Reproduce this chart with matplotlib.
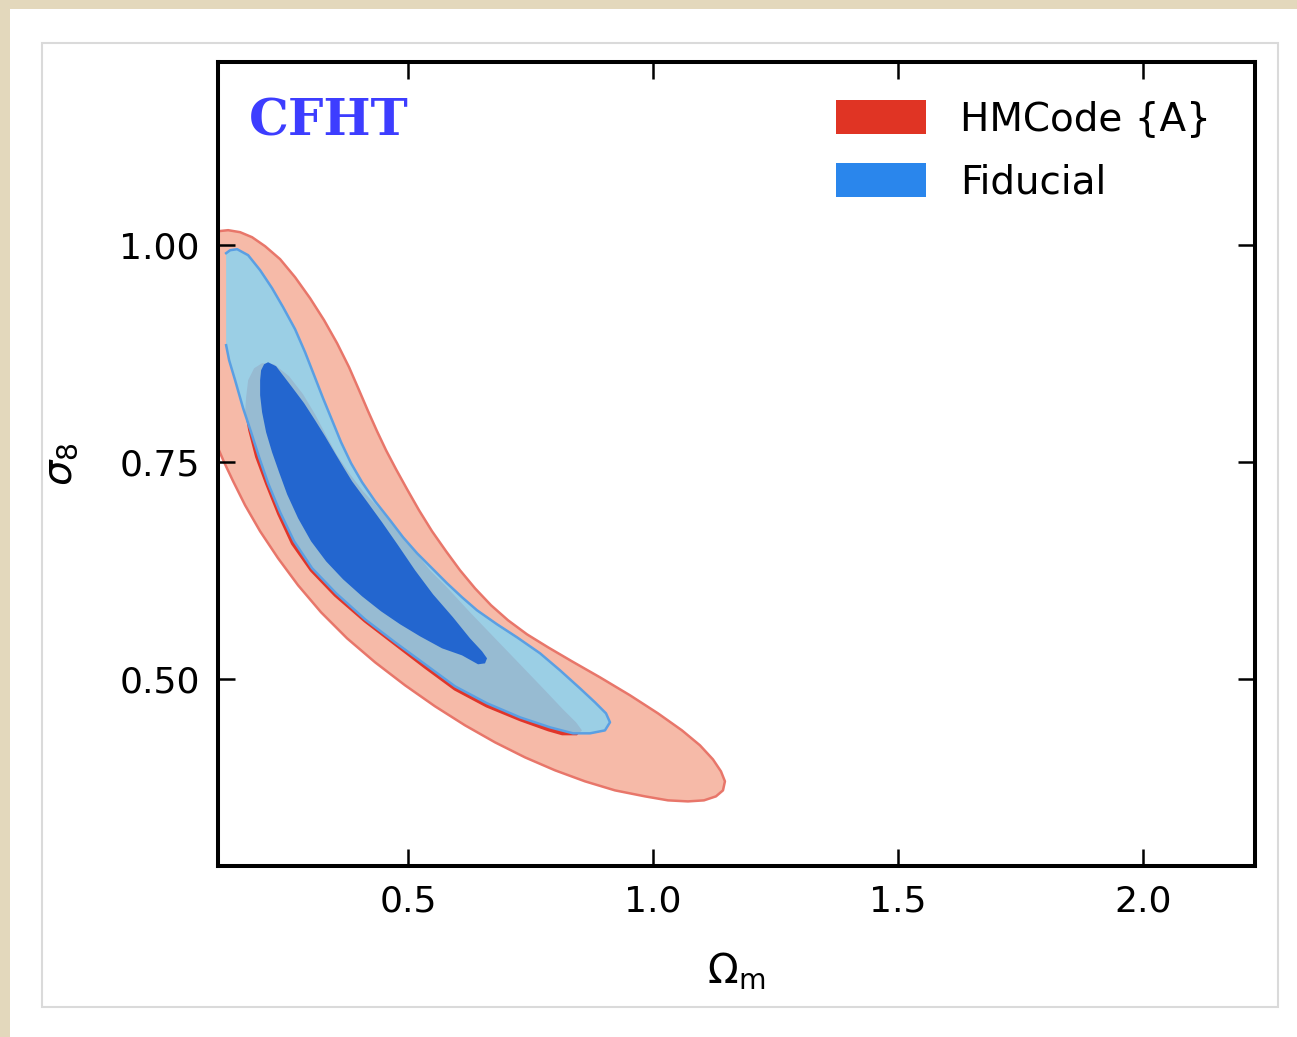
import matplotlib
matplotlib.use("Agg")
import matplotlib.pyplot as plt
from matplotlib.patches import Patch, Rectangle

plt.rcParams['font.family'] = ['DejaVu Sans']
plt.rcParams['mathtext.fontset'] = 'dejavusans'

# contour boundaries (Omega_m, sigma_8)
hm_outer_om = [0.1122, 0.1327, 0.1571, 0.1816, 0.2082, 0.2388, 0.2694, 0.3000, 0.3286, 0.3551,
               0.3796, 0.4000, 0.4184, 0.4367, 0.4551, 0.4755, 0.4980, 0.5224, 0.5490, 0.5776,
               0.6061, 0.6367, 0.6694, 0.7041, 0.7429, 0.7857, 0.8347, 0.8918, 0.9531, 1.0102,
               1.0592, 1.0959, 1.1224, 1.1388, 1.1469, 1.1429, 1.1286, 1.1041, 1.0714, 1.0306,
               0.9837, 0.9224, 0.8612, 0.8000, 0.7388, 0.6776, 0.6163, 0.5551, 0.4939, 0.4327,
               0.3755, 0.3224, 0.2755, 0.2347, 0.1980, 0.1673, 0.1429, 0.1245, 0.1122]
hm_outer_s8 = [1.0161, 1.0173, 1.0150, 1.0092, 0.9988, 0.9839, 0.9631, 0.9389, 0.9136, 0.8871,
               0.8594, 0.8330, 0.8088, 0.7857, 0.7638, 0.7419, 0.7189, 0.6947, 0.6705, 0.6475,
               0.6256, 0.6048, 0.5853, 0.5680, 0.5518, 0.5369, 0.5207, 0.5023, 0.4816, 0.4608,
               0.4412, 0.4240, 0.4078, 0.3940, 0.3825, 0.3721, 0.3652, 0.3606, 0.3594, 0.3606,
               0.3652, 0.3721, 0.3825, 0.3952, 0.4101, 0.4274, 0.4470, 0.4689, 0.4931, 0.5196,
               0.5472, 0.5772, 0.6083, 0.6394, 0.6705, 0.7005, 0.7281, 0.7500, 0.7661]

hm_inner_om = [0.1694, 0.1735, 0.1857, 0.2020, 0.2265, 0.2571, 0.2857, 0.3102, 0.3327, 0.3551,
               0.3816, 0.4082, 0.4367, 0.4653, 0.4918, 0.5184, 0.5449, 0.5776, 0.6265, 0.6776,
               0.7286, 0.7796, 0.8163, 0.8429, 0.8551, 0.8449, 0.8143, 0.7857, 0.7286, 0.6592,
               0.5939, 0.5327, 0.4714, 0.4102, 0.3490, 0.3000, 0.2612, 0.2327, 0.2082, 0.1878,
               0.1735, 0.1673]
hm_inner_s8 = [0.8249, 0.8445, 0.8583, 0.8641, 0.8629, 0.8491, 0.8283, 0.8053, 0.7811, 0.7581,
               0.7362, 0.7166, 0.6993, 0.6809, 0.6624, 0.6440, 0.6256, 0.6071, 0.5772, 0.5472,
               0.5173, 0.4873, 0.4654, 0.4505, 0.4412, 0.4355, 0.4355, 0.4401, 0.4516, 0.4677,
               0.4873, 0.5127, 0.5392, 0.5657, 0.5956, 0.6244, 0.6555, 0.6901, 0.7247, 0.7558,
               0.7869, 0.8076]

fid_outer_om = [0.1286, 0.1367, 0.1510, 0.1735, 0.1980, 0.2224, 0.2449, 0.2694, 0.2898, 0.3082,
                0.3265, 0.3449, 0.3633, 0.3837, 0.4061, 0.4327, 0.4633, 0.4898, 0.5184, 0.5490,
                0.5796, 0.6102, 0.6408, 0.6816, 0.7224, 0.7694, 0.8102, 0.8510, 0.8816, 0.9041,
                0.9122, 0.9020, 0.8714, 0.8367, 0.7898, 0.7286, 0.6612, 0.5959, 0.5347, 0.4735,
                0.4122, 0.3531, 0.3041, 0.2673, 0.2388, 0.2143, 0.1959, 0.1796, 0.1633, 0.1469,
                0.1347, 0.1286]
fid_outer_s8 = [0.9908, 0.9942, 0.9954, 0.9885, 0.9712, 0.9505, 0.9286, 0.9032, 0.8767, 0.8502,
                0.8237, 0.7984, 0.7730, 0.7488, 0.7270, 0.7051, 0.6832, 0.6636, 0.6452, 0.6279,
                0.6106, 0.5945, 0.5795, 0.5634, 0.5484, 0.5300, 0.5104, 0.4896, 0.4735, 0.4608,
                0.4505, 0.4412, 0.4378, 0.4378, 0.4447, 0.4562, 0.4724, 0.4919, 0.5173, 0.5426,
                0.5691, 0.5991, 0.6279, 0.6590, 0.6924, 0.7258, 0.7558, 0.7846, 0.8122, 0.8445,
                0.8675, 0.8848]

fid_inner_om = [0.2061, 0.2143, 0.2306, 0.2633, 0.2878, 0.3102, 0.3306, 0.3510, 0.3694, 0.3857,
                0.4143, 0.4469, 0.4796, 0.5143, 0.5510, 0.5918, 0.6265, 0.6510, 0.6612, 0.6571,
                0.6429, 0.6102, 0.5694, 0.5245, 0.4837, 0.4449, 0.4061, 0.3673, 0.3327, 0.3020,
                0.2755, 0.2531, 0.2367, 0.2224, 0.2102, 0.2020, 0.1980, 0.1980, 0.2000]
fid_inner_s8 = [0.8629, 0.8652, 0.8606, 0.8364, 0.8180, 0.7984, 0.7800, 0.7604, 0.7431, 0.7281,
                0.7062, 0.6809, 0.6544, 0.6256, 0.5979, 0.5714, 0.5472, 0.5323, 0.5242, 0.5184,
                0.5173, 0.5276, 0.5357, 0.5495, 0.5634, 0.5783, 0.5956, 0.6152, 0.6359, 0.6590,
                0.6855, 0.7131, 0.7385, 0.7615, 0.7846, 0.8076, 0.8272, 0.8445, 0.8560]

legend_labels = ['HMCode {A}', 'Fiducial']
x_ticks = [0.5, 1.0, 1.5, 2.0]
x_ticklabels = ['0.5', '1.0', '1.5', '2.0']
y_ticks = [0.50, 0.75, 1.00]
y_ticklabels = ['0.50', '0.75', '1.00']

W, H = 1297, 1037
fig = plt.figure(figsize=(W / 100, H / 100), dpi=100)
fig.patch.set_facecolor('#E3D8BC')
# white page and thin grey panel frame
fig.add_artist(Rectangle((10 / W, 0), 1 - 10 / W, 1 - 9 / H, transform=fig.transFigure,
                         facecolor='white', edgecolor='none', zorder=-10))
fig.add_artist(Rectangle((42 / W, 1 - 1007 / H), (1278 - 42) / W, (1007 - 43) / H,
                         transform=fig.transFigure, facecolor='white', edgecolor='#DADADA',
                         linewidth=1.5, zorder=-9))

ax = fig.add_axes([218 / W, 1 - 866 / H, (1255 - 218) / W, (866 - 62) / H])

# HMCode {A}
ax.fill(hm_outer_om, hm_outer_s8, color='#F6BAA8', lw=0, zorder=1)
ax.plot(hm_outer_om, hm_outer_s8, color='#E8766A', lw=1.8, zorder=1.1,
        solid_joinstyle='round')
ax.fill(hm_inner_om, hm_inner_s8, color='#E0352A', lw=0, zorder=1.2)
# Fiducial
ax.fill(fid_outer_om, fid_outer_s8, color='#8BD3F1', alpha=0.85, lw=0, zorder=2)
ax.plot(fid_outer_om, fid_outer_s8, color='#5A9FE3', lw=1.8, zorder=2.1,
        solid_joinstyle='round')
ax.fill(fid_inner_om, fid_inner_s8, color='#2366CF', lw=0, zorder=2.2)

ax.set_xlim(0.112, 2.229)
ax.set_ylim(0.285, 1.211)
ax.set_xticks(x_ticks)
ax.set_xticklabels(x_ticklabels)
ax.set_yticks(y_ticks)
ax.set_yticklabels(y_ticklabels)
ax.tick_params(direction='in', length=12, width=1.8, top=True, right=True,
               labelsize=26, pad=13)
for s in ax.spines.values():
    s.set_linewidth(2.9)
    s.set_zorder(5)

ax.set_xlabel(r'$\Omega_{\rm m}$', fontsize=29)
ax.xaxis.set_label_coords(0.5, -0.105)
ax.set_ylabel(r'$\sigma_8$', fontsize=29)
ax.yaxis.set_label_coords(-0.133, 0.5)

ax.text(0.03, 0.925, 'CFHT', transform=ax.transAxes, fontsize=36, color='#3D3DFF',
        family='DejaVu Serif', fontweight='bold', va='center', ha='left')

handles = [Patch(facecolor='#E03424', edgecolor='none'),
           Patch(facecolor='#2A86EC', edgecolor='none')]
ax.legend(handles, legend_labels, loc='upper left', bbox_to_anchor=(0.596, 0.953),
          frameon=False, fontsize=28, borderpad=0, borderaxespad=0,
          handlelength=2.31, handleheight=0.98, handletextpad=0.87, labelspacing=0.64)

fig.savefig('out.png', dpi=100)
